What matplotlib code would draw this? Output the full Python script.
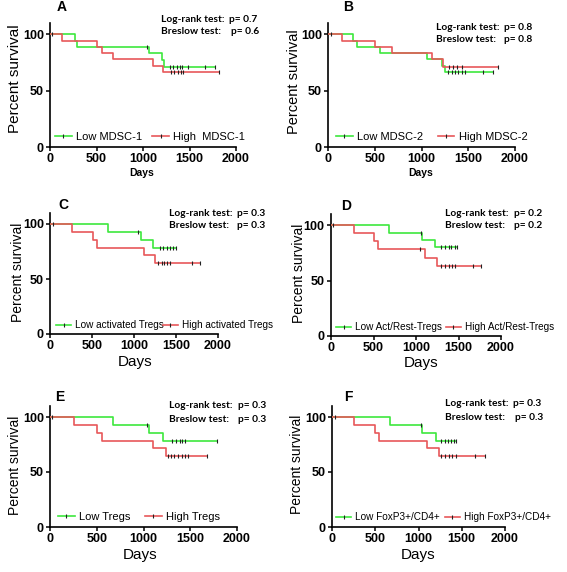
import numpy as np
import matplotlib
matplotlib.use("Agg")
import matplotlib.pyplot as plt
from matplotlib.lines import Line2D

plt.rcParams['font.family'] = ['Liberation Sans', 'DejaVu Sans']

# ---------------- data (days / percent survival) ----------------
# Panel A
A_low_t = [269, 294, 1065, 1201, 1229]
A_low_s = [94.4, 88.9, 83.0, 77.1, 71.1]
A_low_c = [20, 1039, 1290, 1326, 1362, 1398, 1423, 1487, 1667, 1774]
A_high_t = [133, 502, 555, 681, 1111, 1219]
A_high_s = [94.4, 88.9, 83.3, 77.8, 72.2, 66.7]
A_high_c = [1300, 1336, 1372, 1408, 1430, 1817]
# Panel B
B_low_t = [271, 307, 556, 1055, 1216, 1251]
B_low_s = [94.4, 88.9, 83.3, 77.8, 72.2, 66.7]
B_low_c = [30, 1287, 1323, 1358, 1394, 1430, 1465, 1661, 1768]
B_high_t = [146, 503, 681, 1109, 1233]
B_high_s = [94.4, 88.9, 83.3, 77.8, 71.0]
B_high_c = [1290, 1340, 1380, 1430, 1821]
# Panel C
C_low_t = [694, 1079, 1230]
C_low_s = [92.9, 85.7, 78.6]
C_low_c = [40, 1051, 1310, 1350, 1389, 1429, 1468, 1496]
C_high_t = [266, 516, 563, 1119, 1250]
C_high_s = [92.9, 85.7, 78.6, 71.4, 64.3]
C_high_c = [1290, 1330, 1361, 1393, 1429, 1687, 1786]
# Panel D
D_low_t = [682, 1071, 1220]
D_low_s = [93.3, 86.7, 80.0]
D_low_c = [24, 1055, 1298, 1345, 1385, 1416, 1455, 1486]
D_high_t = [270, 502, 553, 1102, 1251]
D_high_s = [92.9, 85.7, 78.6, 70.7, 62.9]
D_high_c = [1043, 1298, 1345, 1385, 1424, 1455, 1671, 1769]
# Panel E
E_low_t = [677, 1059, 1212]
E_low_s = [92.9, 85.7, 78.6]
E_low_c = [25, 1034, 1301, 1344, 1390, 1415, 1444, 1783]
E_high_t = [260, 499, 560, 1105, 1237]
E_high_s = [92.9, 85.7, 78.6, 71.4, 64.3]
E_high_c = [1259, 1294, 1330, 1366, 1408, 1444, 1479, 1676]
# Panel F
F_low_t = [667, 1044, 1206]
F_low_s = [92.9, 85.7, 78.6]
F_low_c = [31, 1033, 1264, 1303, 1341, 1379, 1410, 1437]
F_high_t = [254, 493, 543, 1102, 1237]
F_high_s = [92.9, 85.7, 78.6, 71.4, 64.3]
F_high_c = [1264, 1310, 1349, 1387, 1437, 1650, 1765]

panel_letters = ["A", "B", "C", "D", "E", "F"]
low_labels = ["Low MDSC-1", "Low MDSC-2", "Low activated Tregs", "Low Act/Rest-Tregs",
              "Low Tregs", "Low FoxP3+/CD4+"]
high_labels = ["High  MDSC-1", "High MDSC-2", "High activated Tregs", "High Act/Rest-Tregs",
               "High Tregs", "High FoxP3+/CD4+"]
logrank_p = ["0.7", "0.8", "0.3", "0.2", "0.3", "0.3"]
breslow_p = ["0.6", "0.8", "0.3", "0.2", "0.3", "0.3"]
x_ticks = [0, 500, 1000, 1500, 2000]
y_ticks = [0, 50, 100]

series = [
    (A_low_t, A_low_s, A_low_c, A_high_t, A_high_s, A_high_c),
    (B_low_t, B_low_s, B_low_c, B_high_t, B_high_s, B_high_c),
    (C_low_t, C_low_s, C_low_c, C_high_t, C_high_s, C_high_c),
    (D_low_t, D_low_s, D_low_c, D_high_t, D_high_s, D_high_c),
    (E_low_t, E_low_s, E_low_c, E_high_t, E_high_s, E_high_c),
    (F_low_t, F_low_s, F_low_c, F_high_t, F_high_s, F_high_c),
]

# ---------------- layout (pixels) ----------------
W, H = 567, 572
# left, right(x=2000), bottom(y=0), top
boxes = [(50, 236, 147, 23), (328, 515, 147, 23),
         (50, 218, 334, 213), (331, 501, 336, 214),
         (50, 237, 527, 406), (332, 505, 527, 406)]
letter_pos = [(62, 7), (348, 7), (63, 205), (346, 206), (60, 397), (348, 397)]
stat_pos = [(161, 19, 229, 32, 231), (436, 27, 504, 40, 504),
            (169, 214, 237, 226, 237), (445, 214, 514, 226, 514),
            (169, 406, 238, 419, 238), (445, 404, 513, 417, 515)]
ylab_pos = [(15, 79), (294, 82), (18, 272), (299, 273), (15, 465), (297, 464)]
ylab_size = [11, 10.5, 10, 10, 10, 10]
xlab_pos = [(142, 173), (421, 173), (135, 362), (421, 363), (140, 555), (418, 555)]
xlab_style = [(7.5, 'bold'), (7.5, 'bold'), (11, 'normal'), (11, 'normal'), (11, 'normal'), (11, 'normal')]
leg_pos = [(55, 137), (336, 137), (56, 325), (336, 327), (58, 517), (336, 517)]
leg_size = [8, 8, 7.2, 7.2, 8, 7.2]
leg_colsp = [0.9, 1.3, -0.1, 0.4, 1.3, 0.5]

GREEN = '#3de83d'
RED = '#e8585a'
TICKC = '#222222'


def step_xy(t, s, c):
    end = max(c)
    x = [0] + list(t) + [end]
    y = [100] + list(s) + [s[-1]]
    return x, y


def surv_at(t, s, times):
    idx = np.searchsorted(np.array(t), np.array(times), side='right')
    vals = np.concatenate([[100], s])
    return vals[idx]


fig = plt.figure(figsize=(W / 100, H / 100), dpi=100)

for i in range(6):
    l, r, b, tp = boxes[i]
    ax = fig.add_axes([l / W, 1 - b / H, (r - l) / W, (b - tp) / H])
    lt, ls, lc, ht, hs, hc = series[i]
    for (t, s, c, col) in [(lt, ls, lc, GREEN), (ht, hs, hc, RED)]:
        x, y = step_xy(t, s, c)
        ax.step(x, y, where='post', color=col, lw=1.2, zorder=3)
        ax.plot(c, surv_at(t, s, c), ls='none', marker='|', ms=3.2, mew=0.8, color=TICKC, zorder=4)
    ax.set_xlim(0, 2000)
    ax.set_ylim(0, 110)
    ax.set_xticks(x_ticks)
    ax.set_yticks(y_ticks)
    for sp in ['top', 'right']:
        ax.spines[sp].set_visible(False)
    for sp in ['left', 'bottom']:
        ax.spines[sp].set_linewidth(1.2)
    ax.tick_params(direction='out', length=3, width=1.1, pad=1.5)
    for lab in ax.get_xticklabels() + ax.get_yticklabels():
        lab.set_fontweight('bold')
        lab.set_fontsize(9)
    ax.patch.set_alpha(0)

    # axis labels
    ax.set_ylabel('Percent survival', fontsize=ylab_size[i], va='center', ha='center')
    yx, yy = ylab_pos[i]
    ax.yaxis.set_label_coords((yx - l) / (r - l), (b - yy) / (b - tp))
    fs, fw = xlab_style[i]
    ax.set_xlabel('Days', fontsize=fs, fontweight=fw, va='center', ha='center')
    xx, xy = xlab_pos[i]
    ax.xaxis.set_label_coords((xx - l) / (r - l), (b - xy) / (b - tp))

    # legend
    handles = [Line2D([], [], color=GREEN, lw=1.2, marker='|', ms=3, mew=0.8, mec=TICKC),
               Line2D([], [], color=RED, lw=1.2, marker='|', ms=3, mew=0.8, mec=TICKC)]
    lx, ly = leg_pos[i]
    ax.legend(handles, [low_labels[i], high_labels[i]], ncol=2, loc='center left',
              bbox_to_anchor=(lx / W, 1 - ly / H), bbox_transform=fig.transFigure,
              frameon=False, fontsize=leg_size[i], handlelength=1.5, handletextpad=0.4,
              columnspacing=leg_colsp[i], borderpad=0, borderaxespad=0, numpoints=1)

    # panel letter
    px, py = letter_pos[i]
    fig.text(px / W, 1 - py / H, panel_letters[i], fontsize=10, fontweight='bold',
             ha='center', va='center')
    # stats text
    sx, sy1, px1, sy2, px2 = stat_pos[i]
    for (txt, yy_, pxx, pv) in [("Log-rank test:", sy1, px1, logrank_p[i]),
                                ("Breslow test:", sy2, px2, breslow_p[i])]:
        fig.text(sx / W, 1 - yy_ / H, txt, fontsize=7.3, fontweight='bold',
                 family=['Lato', 'DejaVu Sans'], ha='left', va='center')
        fig.text(pxx / W, 1 - yy_ / H, "p= " + pv, fontsize=7.3, fontweight='bold',
                 family=['Lato', 'DejaVu Sans'], ha='left', va='center')

fig.savefig('out.png', dpi=100)
